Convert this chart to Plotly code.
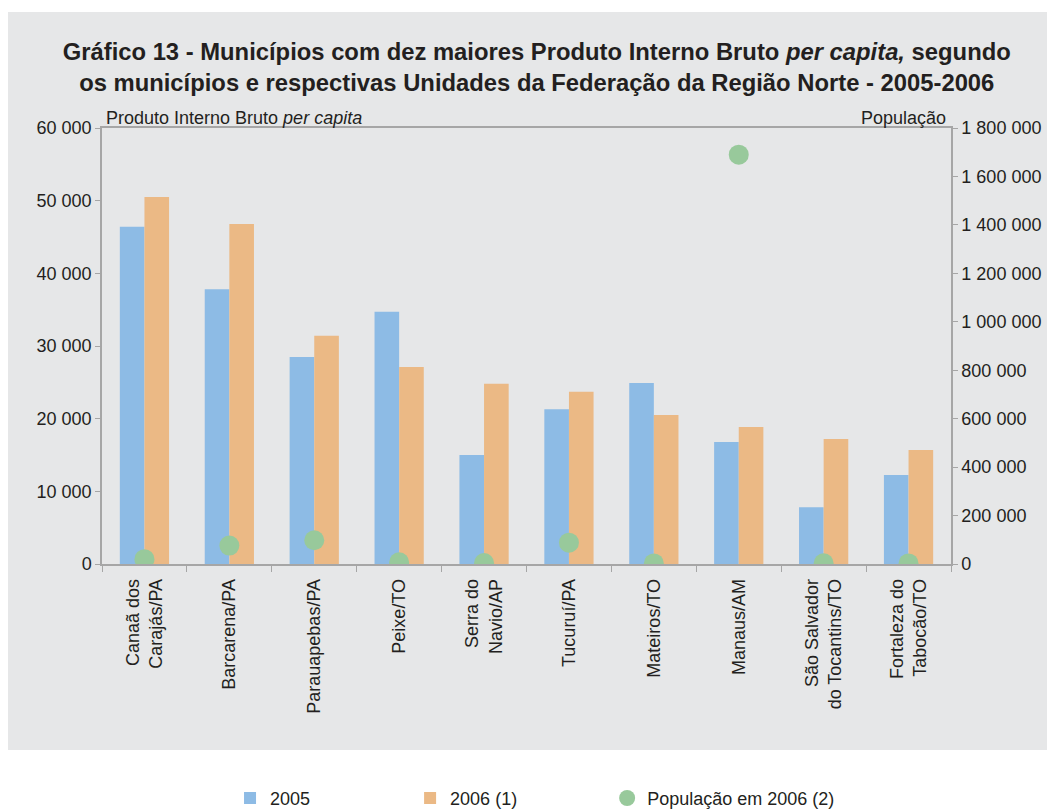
import plotly.graph_objects as go

categories = ["Canaã dos<br>Carajás/PA", "Barcarena/PA", "Parauapebas/PA", "Peixe/TO",
              "Serra do<br>Navio/AP", "Tucuruí/PA", "Mateiros/TO", "Manaus/AM",
              "São Salvador<br>do Tocantins/TO", "Fortaleza do<br>Tabocão/TO"]
pib_2005 = [46400, 37800, 28500, 34700, 15000, 21300, 24900, 16800, 7800, 12250]
pib_2006 = [50500, 46800, 31400, 27100, 24800, 23700, 20500, 18850, 17200, 15700]
populacao_2006 = [20000, 76000, 98000, 7000, 4000, 88000, 2500, 1690000, 3000, 2500]
series_names = ["2005", "2006 (1)", "População em 2006 (2)"]

FONT = "Liberation Sans, Arial, sans-serif"
AXIS_COLOR = "#A6A6A6"
TEXT = "#231F20"
NB = "\u00a0"

fig = go.Figure()
fig.add_trace(go.Bar(x=categories, y=pib_2005, name=series_names[0] + NB * 19,
                     marker_color="#8DBBE5", marker_line_width=0))
fig.add_trace(go.Bar(x=categories, y=pib_2006, name=series_names[1] + NB * 17,
                     marker_color="#EBB985", marker_line_width=0))
fig.add_trace(go.Scatter(x=categories, y=populacao_2006, name=series_names[2],
                         mode="markers", yaxis="y2",
                         marker=dict(color="#98C99B", size=20, line_width=0)))

fig.update_layout(
    width=1047, height=803,
    margin=dict(l=94, r=104, t=120, b=247, autoexpand=False),
    paper_bgcolor="white", plot_bgcolor="white",
    font=dict(family=FONT, size=18, color=TEXT),
    separators=", ",
    barmode="group", bargap=0.42, bargroupgap=0,
    title=dict(text="<b>Gráfico 13 - Municípios com dez maiores Produto Interno Bruto <i>per capita,</i> segundo<br>"
                    "os municípios e respectivas Unidades da Federação da Região Norte - 2005-2006</b>",
               x=0.505, xanchor="center", y=0.935, yanchor="middle",
               font=dict(family=FONT, size=23.8, color=TEXT)),
    xaxis=dict(type="category", range=[-0.5, len(categories) - 0.5], showline=True,
               linecolor=AXIS_COLOR, linewidth=1.5, mirror=True,
               ticks="outside", tickson="boundaries", ticklen=6, tickcolor=AXIS_COLOR,
               ticklabelstandoff=6,
               tickangle=-90, showgrid=False, automargin=False, tickfont=dict(size=18, color=TEXT)),
    yaxis=dict(range=[0, 60000], dtick=10000, tickformat=",d", showline=True, linecolor=AXIS_COLOR,
               linewidth=1.5, ticks="outside", ticklen=5, tickcolor=AXIS_COLOR, showgrid=False,
               zeroline=False, automargin=False, tickfont=dict(size=18, color=TEXT)),
    yaxis2=dict(range=[0, 1800000], dtick=200000, tickformat=",d", overlaying="y", side="right",
                showline=True, linecolor=AXIS_COLOR, linewidth=1.5, ticks="outside", ticklen=5,
                tickcolor=AXIS_COLOR, showgrid=False, zeroline=False, automargin=False,
                tickfont=dict(size=18, color=TEXT)),
    legend=dict(orientation="h", x=0.1508, xanchor="left", y=-0.495, yanchor="top",
                font=dict(size=18, color=TEXT), bgcolor="rgba(0,0,0,0)", itemsizing="trace"),
    showlegend=True,
    shapes=[dict(type="rect", xref="paper", yref="paper", x0=-0.112, x1=1.1225, y0=-0.4266, y1=1.266,
                 fillcolor="#E6E7E8", line_width=0, layer="below")],
    annotations=[
        dict(text="Produto Interno Bruto <i>per capita</i>", xref="paper", yref="paper",
             x=0.002, y=1.0, xanchor="left", yanchor="bottom", showarrow=False,
             font=dict(size=18, color=TEXT), yshift=-2),
        dict(text="População", xref="paper", yref="paper",
             x=0.997, y=1.0, xanchor="right", yanchor="bottom", showarrow=False,
             font=dict(size=18, color=TEXT), yshift=-2),
    ],
)

fig.write_html("out.html")
